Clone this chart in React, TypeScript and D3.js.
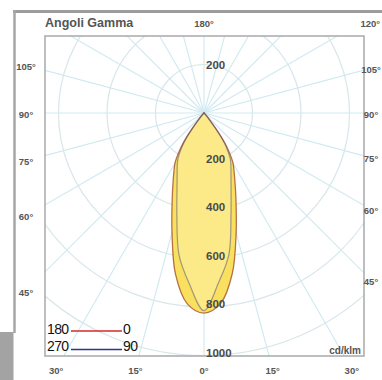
import React from "react";
import * as d3 from "d3";

// gamma angles (degrees from nadir) and luminous intensity (cd/klm)
const GAMMA = [0, 5, 10, 15, 20, 25, 28, 30, 33, 35, 37, 39, 42, 45, 60, 90, 120, 150, 180];
const C0 = [825, 788, 672, 512, 386, 300, 262, 240, 188, 146, 88, 40, 15, 6, 3, 2, 1, 1, 1];
const C180 = [825, 790, 676, 510, 384, 300, 262, 240, 186, 144, 85, 38, 14, 6, 3, 2, 1, 1, 1];
const C90 = [815, 700, 592, 430, 326, 263, 235, 215, 170, 130, 75, 35, 12, 5, 3, 2, 1, 1, 1];
const C270 = [815, 705, 594, 432, 325, 262, 234, 213, 168, 128, 73, 34, 12, 5, 3, 2, 1, 1, 1];

const RING_VALUES = [200, 400, 600, 800, 1000, 1200, 1400, 1600, 1800, 2000];
const RADIUS_LABELS_DOWN = [200, 400, 600, 800, 1000];
const RADIUS_LABELS_UP = [200];
const RAY_ANGLES = d3.range(0, 360, 15);
const SIDE_LABELS = [105, 90, 75, 60, 45];
const BOTTOM_LABELS = [-30, -15, 0, 15, 30];
const TOP_LABELS = [180, 120];
const LEGEND_LEFT = ["180", "270"];
const LEGEND_RIGHT = ["0", "90"];
const TITLE = "Angoli Gamma";
const UNIT = "cd/klm";

const W = 382;
const H = 380;
const cx = 204;
const cy = 113;
const FR = { x0: 45, y0: 36, x1: 364, y1: 356 };
const LR = { x0: 26, y0: 17, x1: 371, y1: 369 };
const TOP_LABEL_Y = 22.5;
const rad = Math.PI / 180;

const rScale = d3.scaleLinear().domain([0, 1000]).range([0, 242.5]);

function loopPath(right: number[], left: number[]): string {
  const pts: [number, number][] = [];
  for (let i = GAMMA.length - 1; i >= 0; i--) pts.push([Math.PI - GAMMA[i] * rad, rScale(right[i])]);
  for (let i = 1; i < GAMMA.length - 1; i++) pts.push([Math.PI + GAMMA[i] * rad, rScale(left[i])]);
  const gen = d3
    .lineRadial<[number, number]>()
    .angle((d) => d[0])
    .radius((d) => d[1])
    .curve(d3.curveCatmullRomClosed.alpha(0.5));
  return gen(pts) || "";
}

function labelPos(signedDeg: number): [number, number] {
  const s = Math.sin(signedDeg * rad);
  const c = Math.cos(signedDeg * rad);
  const ts: number[] = [];
  if (s > 1e-6) ts.push((LR.x1 - cx) / s);
  if (s < -1e-6) ts.push((LR.x0 - cx) / s);
  if (c > 1e-6) ts.push((LR.y1 - cy) / c);
  if (c < -1e-6) ts.push((LR.y0 - cy) / c);
  const t = Math.min(...ts);
  const y = cy + t * c;
  return [cx + t * s, y < TOP_LABEL_Y ? TOP_LABEL_Y : y];
}

export default function App() {
  const outer = loopPath(C0, C180);
  const inner = loopPath(C90, C270);
  const degLabels: { a: number; txt: string }[] = [
    ...SIDE_LABELS.map((a) => ({ a: -a, txt: a + "°" })),
    ...SIDE_LABELS.map((a) => ({ a: a, txt: a + "°" })),
    ...BOTTOM_LABELS.map((a) => ({ a: a, txt: Math.abs(a) + "°" })),
    ...TOP_LABELS.map((a) => ({ a: a, txt: a + "°" })),
  ];
  const font = "'Liberation Sans', Arial, sans-serif";
  return (
    <div style={{ position: "absolute", left: 0, top: 0 }}>
      <svg width={W} height={H} style={{ display: "block", background: "#fff" }} fontFamily={font}>
        <defs>
          <clipPath id="plotclip">
            <rect x={FR.x0} y={FR.y0} width={FR.x1 - FR.x0} height={FR.y1 - FR.y0} />
          </clipPath>
        </defs>
        {/* outer gray border */}
        <line x1={13} x2={W} y1={11.5} y2={11.5} stroke="#9c9c9c" strokeWidth={3} />
        <line x1={14.5} x2={14.5} y1={10} y2={333} stroke="#a6a6a6" strokeWidth={2.5} />
        <rect x={0} y={332} width={13.5} height={H - 332} fill="#a3a3a3" />

        <g clipPath="url(#plotclip)">
          <g transform={`translate(${cx},${cy})`}>
            {RING_VALUES.map((v) => (
              <circle key={v} r={rScale(v)} fill="none" stroke="#d8e6ea" strokeWidth={1.2} />
            ))}
            {RAY_ANGLES.map((a) => (
              <line
                key={a}
                x1={0}
                y1={0}
                x2={Math.sin(a * rad) * 500}
                y2={Math.cos(a * rad) * 500}
                stroke="#cfe9f1"
                strokeWidth={1.1}
              />
            ))}
            <path d={outer} fill="#f9e05e" stroke="none" />
            <path d={inner} fill="#fcea88" stroke="none" />
            <path d={outer} fill="none" stroke="#a5532e" strokeOpacity={0.8} strokeWidth={1.3} />
            <path d={inner} fill="none" stroke="#4a4a80" strokeOpacity={0.5} strokeWidth={1.2} />
          </g>
        </g>
        <rect
          x={FR.x0}
          y={FR.y0}
          width={FR.x1 - FR.x0}
          height={FR.y1 - FR.y0}
          fill="none"
          stroke="#a9a9a9"
          strokeWidth={1.5}
        />

        {RADIUS_LABELS_DOWN.map((v) => (
          <text key={"d" + v} x={cx + 2} y={cy + rScale(v) + 1} fontSize={11.5} fontWeight="bold" fill="#4a4a4a">
            {v}
          </text>
        ))}
        {RADIUS_LABELS_UP.map((v) => (
          <text key={"u" + v} x={cx + 2} y={cy - rScale(v) + 4} fontSize={11.5} fontWeight="bold" fill="#4a4a4a">
            {v}
          </text>
        ))}

        {degLabels.map((d, i) => {
          const [x, y] = labelPos(d.a);
          return (
            <text
              key={i}
              x={x}
              y={y + 1}
              textAnchor="middle"
              dominantBaseline="central"
              fontSize={9.5}
              fontWeight="bold"
              fill="#555"
            >
              {d.txt}
            </text>
          );
        })}

        <text x={45} y={26.5} fontSize={12.5} fontWeight="bold" fill="#555">
          {TITLE}
        </text>
        <text x={361} y={353.5} textAnchor="end" fontSize={10} fontWeight="bold" fill="#555">
          {UNIT}
        </text>

        {LEGEND_LEFT.map((t, i) => (
          <g key={t}>
            <text x={47} y={333.5 + i * 17} fontSize={14} letterSpacing={-0.6} fill="#111">
              {t}
            </text>
            <line
              x1={71}
              x2={122}
              y1={331 + i * 18.5}
              y2={331 + i * 18.5}
              stroke={i === 0 ? "#d42a2a" : "#2a3590"}
              strokeWidth={1.4}
            />
            <text x={123} y={333.5 + i * 17} fontSize={14} letterSpacing={-0.6} fill="#111">
              {LEGEND_RIGHT[i]}
            </text>
          </g>
        ))}
      </svg>
    </div>
  );
}
